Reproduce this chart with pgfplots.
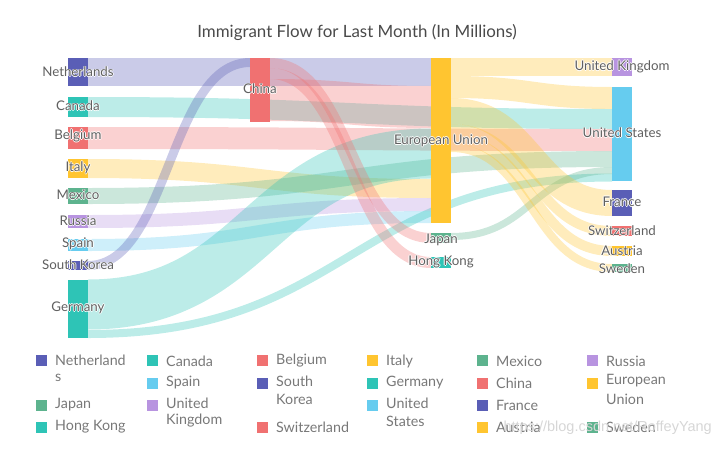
\documentclass[border=0pt]{standalone}
\usepackage{pgfplots}
\pgfplotsset{compat=1.18}
\usepackage{fontspec}
\setmainfont{Lato}
\newfontfamily\wmfont{Liberation Sans}
\definecolor{cInd}{HTML}{5A5EB6}
\definecolor{cTeal}{HTML}{2EC4B6}
\definecolor{cSal}{HTML}{F07171}
\definecolor{cYel}{HTML}{FFC530}
\definecolor{cGrn}{HTML}{5DB38E}
\definecolor{cLav}{HTML}{B894E0}
\definecolor{cBlu}{HTML}{66CCEF}
\definecolor{labc}{HTML}{606060}
\definecolor{legc}{HTML}{787878}
\definecolor{titc}{HTML}{4A4A4A}
% link: x0, y0 (centre), xmid, x1, y1 (centre), width, colour
\newcommand{\lnk}[7]{\draw[#7, line width=#6pt, draw opacity=0.32]
  (axis cs:#1,#2) .. controls (axis cs:#3,#2) and (axis cs:#3,#5) .. (axis cs:#4,#5);}
% node bar: x0, x1, ytop, ybottom, colour
\newcommand{\nbar}[5]{\fill[#5] (axis cs:#1,#3) rectangle (axis cs:#2,#4);}
% node label with white halo
\newcommand{\lab}[3]{%
 \node[white,font=\fontsize{13.3}{16}\selectfont,inner sep=0pt,xshift=0.8pt] at (axis cs:#1,#2) {#3};
 \node[white,font=\fontsize{13.3}{16}\selectfont,inner sep=0pt,xshift=-0.8pt] at (axis cs:#1,#2) {#3};
 \node[white,font=\fontsize{13.3}{16}\selectfont,inner sep=0pt,yshift=0.8pt] at (axis cs:#1,#2) {#3};
 \node[white,font=\fontsize{13.3}{16}\selectfont,inner sep=0pt,yshift=-0.8pt] at (axis cs:#1,#2) {#3};
 \node[labc,font=\fontsize{13.3}{16}\selectfont,inner sep=0pt] at (axis cs:#1,#2) {#3};}
% legend square: x0, ytop, x1, ybottom, colour
\newcommand{\lsq}[5]{\fill[#5] (axis cs:#1,#2) rectangle (axis cs:#3,#4);}
\newcommand{\ltx}[3]{\node[legc,anchor=west,inner sep=0pt,font=\fontsize{14.3}{17}\selectfont] at (axis cs:#1,#2) {#3};}
\begin{document}
\begin{tikzpicture}
\begin{axis}[width=714pt,height=466pt,scale only axis,
  xmin=0,xmax=714,ymin=0,ymax=466,y dir=reverse,hide axis,clip=false]
\path (axis cs:0,0) rectangle (axis cs:714,466);
% ---- links (values in px of band width) ----
\lnk{88}{72}{259.5}{431}{72}{28}{cInd}        % Netherlands -> EU
\lnk{88}{107}{350}{612}{119}{20}{cTeal}       % Canada -> US
\lnk{88}{138}{350}{612}{140}{22}{cSal}        % Belgium -> US
\lnk{88}{168.5}{259.5}{431}{188.5}{19}{cYel}  % Italy -> EU
\lnk{88}{196}{350}{612}{159}{16}{cGrn}        % Mexico -> US
\lnk{88}{221.5}{259.5}{431}{204.5}{13}{cLav}  % Russia -> EU
\lnk{88}{245}{259.5}{431}{217}{12}{cBlu}      % Spain -> EU
\lnk{88}{265.5}{169}{250}{62.5}{9}{cInd}      % South Korea -> China
\lnk{88}{304.5}{259.5}{431}{153.5}{50}{cTeal} % Germany -> EU
\lnk{88}{334}{350}{612}{177.5}{8}{cTeal}      % Germany -> US
\lnk{270}{100}{350.5}{431}{107}{42}{cSal}     % China -> EU
\lnk{270}{63}{350.5}{431}{238}{10}{cSal}      % China -> Japan
\lnk{270}{73.5}{350.5}{431}{262.5}{11}{cSal}  % China -> Hong Kong
\lnk{451}{236.5}{531.5}{612}{170.5}{7}{cGrn}  % Japan -> US
\lnk{451}{67}{531.5}{612}{67}{18}{cYel}       % EU -> UK
\lnk{451}{87}{531.5}{612}{98}{22}{cYel}       % EU -> US
\lnk{451}{111}{531.5}{612}{203}{26}{cYel}     % EU -> France
\lnk{451}{129}{531.5}{612}{231}{10}{cYel}     % EU -> Switzerland
\lnk{451}{139}{531.5}{612}{251}{10}{cYel}     % EU -> Austria
\lnk{451}{148}{531.5}{612}{268}{8}{cYel}      % EU -> Sweden
% ---- nodes ----
\nbar{68}{88}{58}{86}{cInd}
\nbar{68}{88}{97}{117}{cTeal}
\nbar{68}{88}{127}{149}{cSal}
\nbar{68}{88}{159}{178}{cYel}
\nbar{68}{88}{188}{204}{cGrn}
\nbar{68}{88}{215}{228}{cLav}
\nbar{68}{88}{239}{251}{cBlu}
\nbar{68}{88}{261}{270}{cInd}
\nbar{68}{88}{280}{338}{cTeal}
\nbar{250}{270}{58}{122}{cSal}
\nbar{431}{451}{58}{223}{cYel}
\nbar{431}{451}{233}{243}{cGrn}
\nbar{431}{451}{257}{268}{cTeal}
\nbar{612}{632}{58}{76}{cLav}
\nbar{612}{632}{87}{181}{cBlu}
\nbar{612}{632}{190}{216}{cInd}
\nbar{612}{632}{226}{236}{cSal}
\nbar{612}{632}{246}{256}{cYel}
\nbar{612}{632}{264}{272}{cGrn}
% ---- node labels ----
\lab{78}{72}{Netherlands}
\lab{78}{106}{Canada}
\lab{78}{136}{Belgium}
\lab{78}{168}{Italy}
\lab{78}{195}{Mexico}
\lab{78}{221}{Russia}
\lab{78}{244}{Spain}
\lab{78}{265}{South Korea}
\lab{78}{308}{Germany}
\lab{260}{89}{China}
\lab{441}{141}{European Union}
\lab{441}{240}{Japan}
\lab{441}{262}{Hong Kong}
\lab{622}{67}{United Kingdom}
\lab{622}{133}{United States}
\lab{622}{202}{France}
\lab{622}{231}{Switzerland}
\lab{622}{251}{Austria}
\lab{622}{269}{Sweden}
% ---- title ----
\node[titc,font=\fontsize{16.9}{20}\selectfont,inner sep=0pt] at (axis cs:357,32) {Immigrant Flow for Last Month (In Millions)};
% ---- legend ----
\lsq{36}{355}{47}{366}{cInd}\ltx{55}{360}{Netherland}\ltx{55}{378}{s}
\lsq{147}{355}{158}{366}{cTeal}\ltx{166}{361}{Canada}
\lsq{257}{355}{268}{366}{cSal}\ltx{276}{361}{Belgium}
\lsq{367}{355}{378}{366}{cYel}\ltx{386}{361}{Italy}
\lsq{477}{355}{488}{366}{cGrn}\ltx{496}{361}{Mexico}
\lsq{587}{355}{598}{366}{cLav}\ltx{606}{361}{Russia}
\lsq{147}{378}{158}{389}{cBlu}\ltx{166}{383}{Spain}
\lsq{257}{378}{268}{389}{cInd}\ltx{276}{381}{South}\ltx{276}{399}{Korea}
\lsq{367}{378}{378}{389}{cTeal}\ltx{386}{383}{Germany}
\lsq{477}{378}{488}{389}{cSal}\ltx{496}{383}{China}
\lsq{587}{378}{598}{389}{cYel}\ltx{606}{381}{European}\ltx{606}{399}{Union}
\lsq{36}{400}{47}{411}{cGrn}\ltx{55}{405}{Japan}
\lsq{147}{400}{158}{411}{cLav}\ltx{166}{403}{United}\ltx{166}{421}{Kingdom}
\lsq{367}{400}{378}{411}{cBlu}\ltx{386}{403}{United}\ltx{386}{421}{States}
\lsq{477}{400}{488}{411}{cInd}\ltx{496}{405}{France}
\lsq{36}{422}{47}{433}{cTeal}\ltx{55}{427}{Hong Kong}
\lsq{257}{422}{268}{433}{cSal}\ltx{276}{427}{Switzerland}
\lsq{477}{422}{488}{433}{cYel}\ltx{496}{427}{Austria}
\lsq{587}{422}{598}{433}{cGrn}\ltx{606}{427}{Sweden}
% ---- watermark ----
\node[black!16,anchor=east,inner sep=0pt,font=\wmfont\fontsize{14.5}{17}\selectfont] at (axis cs:712,428) {https://blog.csdn.net/RoffeyYang};
\end{axis}
\end{tikzpicture}
\end{document}
